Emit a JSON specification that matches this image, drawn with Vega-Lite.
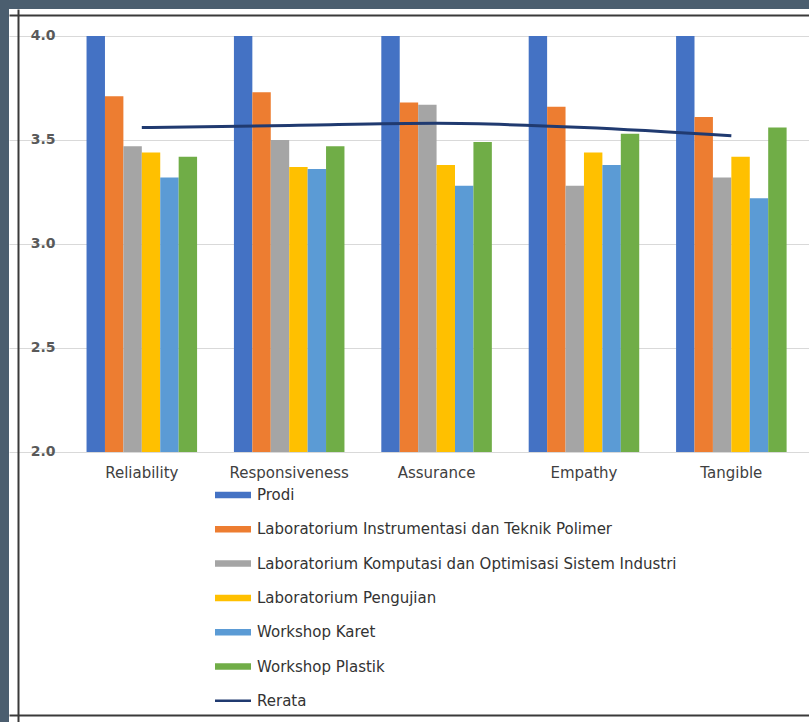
{
  "$schema": "https://vega.github.io/schema/vega-lite/v6.json",
  "autosize": {"type": "none"},
  "padding": {"left": 9, "top": 9, "right": 0, "bottom": 0},
  "width": 800,
  "height": 713,
  "background": "#4b5e6f",
  "config": {
    "view": {"fill": "white", "stroke": null},
    "font": "DejaVu Sans"
  },
  "datasets": {
    "bars": [
      {"aspect": "Reliability", "series": "Prodi", "value": 4.0},
      {"aspect": "Reliability", "series": "Laboratorium Instrumentasi dan Teknik Polimer", "value": 3.71},
      {"aspect": "Reliability", "series": "Laboratorium Komputasi dan Optimisasi Sistem Industri", "value": 3.47},
      {"aspect": "Reliability", "series": "Laboratorium Pengujian", "value": 3.44},
      {"aspect": "Reliability", "series": "Workshop Karet", "value": 3.32},
      {"aspect": "Reliability", "series": "Workshop Plastik", "value": 3.42},
      {"aspect": "Responsiveness", "series": "Prodi", "value": 4.0},
      {"aspect": "Responsiveness", "series": "Laboratorium Instrumentasi dan Teknik Polimer", "value": 3.73},
      {"aspect": "Responsiveness", "series": "Laboratorium Komputasi dan Optimisasi Sistem Industri", "value": 3.5},
      {"aspect": "Responsiveness", "series": "Laboratorium Pengujian", "value": 3.37},
      {"aspect": "Responsiveness", "series": "Workshop Karet", "value": 3.36},
      {"aspect": "Responsiveness", "series": "Workshop Plastik", "value": 3.47},
      {"aspect": "Assurance", "series": "Prodi", "value": 4.0},
      {"aspect": "Assurance", "series": "Laboratorium Instrumentasi dan Teknik Polimer", "value": 3.68},
      {"aspect": "Assurance", "series": "Laboratorium Komputasi dan Optimisasi Sistem Industri", "value": 3.67},
      {"aspect": "Assurance", "series": "Laboratorium Pengujian", "value": 3.38},
      {"aspect": "Assurance", "series": "Workshop Karet", "value": 3.28},
      {"aspect": "Assurance", "series": "Workshop Plastik", "value": 3.49},
      {"aspect": "Empathy", "series": "Prodi", "value": 4.0},
      {"aspect": "Empathy", "series": "Laboratorium Instrumentasi dan Teknik Polimer", "value": 3.66},
      {"aspect": "Empathy", "series": "Laboratorium Komputasi dan Optimisasi Sistem Industri", "value": 3.28},
      {"aspect": "Empathy", "series": "Laboratorium Pengujian", "value": 3.44},
      {"aspect": "Empathy", "series": "Workshop Karet", "value": 3.38},
      {"aspect": "Empathy", "series": "Workshop Plastik", "value": 3.53},
      {"aspect": "Tangible", "series": "Prodi", "value": 4.0},
      {"aspect": "Tangible", "series": "Laboratorium Instrumentasi dan Teknik Polimer", "value": 3.61},
      {"aspect": "Tangible", "series": "Laboratorium Komputasi dan Optimisasi Sistem Industri", "value": 3.32},
      {"aspect": "Tangible", "series": "Laboratorium Pengujian", "value": 3.42},
      {"aspect": "Tangible", "series": "Workshop Karet", "value": 3.22},
      {"aspect": "Tangible", "series": "Workshop Plastik", "value": 3.56}
    ],
    "rerata": [
      {"aspect": "Reliability", "series": "Rerata", "value": 3.56},
      {"aspect": "Responsiveness", "series": "Rerata", "value": 3.57},
      {"aspect": "Assurance", "series": "Rerata", "value": 3.58},
      {"aspect": "Empathy", "series": "Rerata", "value": 3.56},
      {"aspect": "Tangible", "series": "Rerata", "value": 3.52}
    ]
  },
  "encoding": {
    "x": {
      "field": "aspect",
      "type": "nominal",
      "sort": ["Reliability", "Responsiveness", "Assurance", "Empathy", "Tangible"],
      "scale": {"paddingInner": 0.25, "paddingOuter": 0.339, "align": 0.776}
    },
    "y": {
      "field": "value",
      "type": "quantitative",
      "scale": {"domain": [0.7019, 4.1298], "nice": false, "zero": false},
      "axis": {
        "title": null,
        "values": [2, 2.5, 3, 3.5, 4],
        "format": ".1f",
        "offset": -9,
        "grid": true,
        "gridColor": "#d9d9d9",
        "gridWidth": 1,
        "domain": true,
        "domainColor": "#3a3a3a",
        "domainWidth": 2,
        "ticks": false,
        "tickSize": 0,
        "labelPadding": -37,
        "labelAlign": "right",
        "labelFont": "DejaVu Sans",
        "labelFontSize": 14,
        "labelFontWeight": "bold",
        "labelColor": "#595959"
      }
    },
    "color": {
      "field": "series",
      "type": "nominal",
      "scale": {
        "domain": ["Prodi", "Laboratorium Instrumentasi dan Teknik Polimer", "Laboratorium Komputasi dan Optimisasi Sistem Industri", "Laboratorium Pengujian", "Workshop Karet", "Workshop Plastik", "Rerata"],
        "range": ["#4472c4", "#ed7d31", "#a5a5a5", "#ffc000", "#5b9bd5", "#70ad47", "#203a70"]
      },
      "legend": {
        "title": null,
        "orient": "none",
        "legendX": 206,
        "legendY": 468,
        "direction": "vertical",
        "symbolType": "M-1,-0.18H1V0.18H-1Z",
        "symbolSize": 1296,
        "symbolStrokeWidth": 0,
        "rowPadding": 8.3,
        "labelOffset": 6,
        "labelFont": "DejaVu Sans",
        "labelFontSize": 15,
        "labelColor": "#333333",
        "labelLimit": 600,
        "padding": 0,
        "encode": {
          "symbols": {
            "update": {
              "shape": {"signal": "datum.value === 'Rerata' ? 'M-1,-0.07H1V0.07H-1Z' : 'M-1,-0.18H1V0.18H-1Z'"}
            }
          }
        }
      }
    }
  },
  "resolve": {"axis": {"x": "independent"}},
  "layer": [
    {
      "data": {"name": "bars"},
      "mark": {"type": "bar"},
      "encoding": {
        "x": {
          "field": "aspect",
          "type": "nominal",
          "sort": ["Reliability", "Responsiveness", "Assurance", "Empathy", "Tangible"],
          "axis": {
            "title": null,
            "orient": "bottom",
            "offset": -270,
            "domain": false,
            "ticks": false,
            "tickSize": 0,
            "labelPadding": 13,
            "labelAngle": 0,
            "labelFont": "DejaVu Sans",
            "labelFontSize": 15,
            "labelColor": "#404040"
          }
        },
        "y2": {"datum": 2},
        "xOffset": {
          "field": "series",
          "type": "nominal",
          "scale": {
            "domain": ["Prodi", "Laboratorium Instrumentasi dan Teknik Polimer", "Laboratorium Komputasi dan Optimisasi Sistem Industri", "Laboratorium Pengujian", "Workshop Karet", "Workshop Plastik"],
            "paddingInner": 0,
            "paddingOuter": 0
          }
        }
      }
    },
    {
      "data": {"name": "rerata"},
      "mark": {"type": "line", "strokeWidth": 3, "interpolate": "monotone"},
      "encoding": {
        "x": {
          "field": "aspect",
          "type": "nominal",
          "sort": ["Reliability", "Responsiveness", "Assurance", "Empathy", "Tangible"],
          "axis": {
            "title": null,
            "orient": "top",
            "offset": -6,
            "labels": false,
            "ticks": false,
            "domain": true,
            "domainColor": "#3a3a3a",
            "domainWidth": 2
          }
        }
      }
    },
    {
      "data": {"name": "rerata"},
      "mark": {"type": "rule", "opacity": 0},
      "encoding": {
        "x": {
          "field": "aspect",
          "type": "nominal",
          "sort": ["Reliability", "Responsiveness", "Assurance", "Empathy", "Tangible"],
          "axis": {
            "title": null,
            "orient": "bottom",
            "offset": -7,
            "labels": false,
            "ticks": false,
            "domain": true,
            "domainColor": "#3a3a3a",
            "domainWidth": 2
          }
        }
      }
    }
  ]
}
